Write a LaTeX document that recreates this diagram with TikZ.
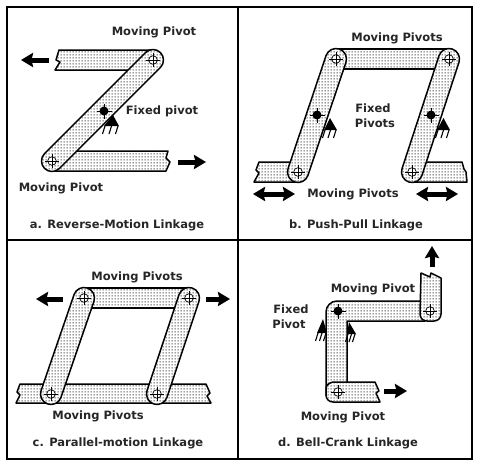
\documentclass[tikz,border=0pt]{standalone}
\usepackage{fontspec}
\setmainfont{DejaVu Sans}
\usetikzlibrary{patterns,arrows.meta}
\pgfdeclarepatternformonly{stip}{\pgfpointorigin}{\pgfqpoint{3pt}{3pt}}{\pgfqpoint{3pt}{3pt}}{%
  \pgfpathrectangle{\pgfqpoint{0.8pt}{0.8pt}}{\pgfqpoint{1.35pt}{1.35pt}}\pgfusepath{fill}}
\tikzset{
  frame/.style={line width=2pt,black},
  part/.style={line width=1.5pt,draw=black,fill=white,line join=round},
  dots/.style={pattern=stip,pattern color=black!85},
  lbl/.style={font=\fontsize{11.5pt}{13pt}\selectfont\bfseries,inner sep=0pt,text=black!85},
  fat/.style={line width=5pt,-{Stealth[length=12pt,width=14pt,inset=1.5pt]}},
  fatboth/.style={line width=5pt,{Stealth[length=12pt,width=14pt,inset=1.5pt]}-{Stealth[length=12pt,width=14pt,inset=1.5pt]}},
}
% stadium link between two pivots
\newcommand{\linkbar}[4]{%
  \pgfmathsetmacro{\ang}{atan2(#4-#2,#3-#1)}%
  \pgfmathsetmacro{\len}{veclen(#3-#1,#4-#2)}%
  \begin{scope}[shift={(#1,#2)},rotate=\ang]
    \path[part] (0,-10.5) -- (\len,-10.5) arc[start angle=-90,end angle=90,radius=10.5] -- (0,10.5) arc[start angle=90,end angle=270,radius=10.5] -- cycle;
    \path[dots] (0,-10.5) -- (\len,-10.5) arc[start angle=-90,end angle=90,radius=10.5] -- (0,10.5) arc[start angle=90,end angle=270,radius=10.5] -- cycle;
  \end{scope}}
\newcommand{\barshape}[1]{\path[part] #1;\path[dots] #1;}
\newcommand{\movepiv}[2]{%
  \draw[line width=0.7pt,fill=white] (#1,#2) circle[radius=4.3];
  \draw[line width=0.7pt] (#1-7,#2) -- (#1+7,#2) (#1,#2-7) -- (#1,#2+7);}
\newcommand{\fixpiv}[2]{%
  \fill (#1,#2) circle[radius=4.5];
  \draw[line width=0.8pt] (#1-7.5,#2) -- (#1+7.5,#2) (#1,#2-7.5) -- (#1,#2+7.5);}
% ground: apex x, apex y, base left x, base right x, base y
\newcommand{\ground}[5]{%
  \fill (#1,#2) -- (#4,#5) -- (#3,#5) -- cycle;
  \draw[line width=1.1pt] (#3+1,#5) -- ++(-2.5,8) ({(#3+#4)/2},#5) -- ++(-2.5,8) (#4-1,#5) -- ++(-2.5,8);}
\begin{document}
\begin{tikzpicture}[x=1pt,y=1pt,yscale=-1]
\useasboundingbox (0,0) rectangle (480,467);
\fill[white] (0,0) rectangle (480,467);
\draw[frame] (6.5,6.5) rectangle (472,459);
\draw[frame] (238,6.5) -- (238,459);
\draw[frame] (6.5,239.5) -- (472,239.5);

% --- a
\barshape{(59,50) -- (152,50) -- (152,70) -- (55,70) -- (60,62) -- (56,60) -- cycle}
\barshape{(60,151) -- (168,151) -- (166,158) -- (170,162) -- (166,171) -- (55,171) -- cycle}
\linkbar{153}{60}{52}{161}
\movepiv{153}{60}\movepiv{52}{161}
\fixpiv{104}{111}
\ground{113}{115}{104}{119}{126}
\node[lbl] (a1) at (154,32) {Moving Pivot};
\node[lbl] (a2) at (162,111) {Fixed pivot};
\node[lbl] (a3) at (61,188) {Moving Pivot};
\node[lbl] (a4) at (117,225) {a. Reverse-Motion Linkage};
\coordinate (a5) at (49,60);\coordinate (a6) at (21,60);
\coordinate (a7) at (178,162);\coordinate (a8) at (206,162);
\draw[fat] (a5) -- (a6);
\draw[fat] (a7) -- (a8);

% --- b
\barshape{(336,49) -- (449,49) -- (449,69) -- (336,69) -- cycle}
\barshape{(259,162) -- (298,162) -- (298,182) -- (254,182) -- (259,173) -- (256,170) -- cycle}
\barshape{(412,162) -- (462,162) -- (464,169) -- (466,172) -- (467,182) -- (412,182) -- cycle}
\linkbar{336}{59}{298}{172}
\linkbar{449}{59}{412}{172}
\movepiv{336}{59}\movepiv{298}{172}\movepiv{449}{59}\movepiv{412}{172}
\fixpiv{317}{115}\fixpiv{431}{115}
\ground{330}{118}{324}{337}{130}
\ground{443.5}{118}{437}{450}{130}
\node[lbl] (b1) at (397,38) {Moving Pivots};
\node[lbl] (b2) at (373,108) {Fixed};
\node[lbl] (b3) at (375,123) {Pivots};
\node[lbl] (b4) at (353,194) {Moving Pivots};
\node[lbl] (b5) at (356,225) {b. Push-Pull Linkage};
\coordinate (b6) at (253,194);\coordinate (b7) at (295,194);
\coordinate (b8) at (416,194);\coordinate (b9) at (458,194);
\draw[fatboth] (b6) -- (b7);
\draw[fatboth] (b8) -- (b9);

% --- c
\barshape{(84,288) -- (189,288) -- (189,308) -- (84,308) -- cycle}
\barshape{(20,384) -- (206,384) -- (210,393) -- (207,396) -- (211,403) -- (16,403) -- (20,395) -- (17,392) -- cycle}
\linkbar{84}{298}{51}{394}
\linkbar{189}{298}{157}{394}
\movepiv{84}{298}\movepiv{51}{394}\movepiv{189}{298}\movepiv{157}{394}
\node[lbl] (c1) at (137,277) {Moving Pivots};
\node[lbl] (c2) at (98,416) {Moving Pivots};
\node[lbl] (c3) at (118,443) {c. Parallel-motion Linkage};
\coordinate (c4) at (63,299);\coordinate (c5) at (36,299);
\coordinate (c6) at (206,299);\coordinate (c7) at (230,299);
\draw[fat] (c4) -- (c5);
\draw[fat] (c6) -- (c7);

% --- d
\barshape{(347,395) -- (347,321) -- (425,321) -- (425,301) -- (337,301) .. controls (331,301) and (326,306) .. (326,312) -- (326,395) -- cycle}
\barshape{(421,273) -- (430,277) -- (431,273) -- (441,278) -- (441,314) .. controls (441,318) and (438,321) .. (434,321) -- (427,321) .. controls (423,321) and (420,318) .. (420,314) -- cycle}
\barshape{(375,382) -- (333,382) .. controls (329,383) and (326,385) .. (326,389) -- (326,395) .. controls (326,399) and (329,402) .. (333,402) -- (380,402) -- (376,393) -- (379,391) -- cycle}
\movepiv{430}{311}\movepiv{338}{392}
\fixpiv{338}{311}
\ground{323}{319}{317}{327}{333}
\ground{349}{322}{347}{356}{334}
\node[lbl] (d1) at (373,289) {Moving Pivot};
\node[lbl] (d2) at (291,309) {Fixed};
\node[lbl] (d3) at (289,324) {Pivot};
\node[lbl] (d4) at (343,417) {Moving Pivot};
\node[lbl] (d5) at (348,443) {d. Bell-Crank Linkage};
\coordinate (d6) at (432,267);\coordinate (d7) at (432,246);
\coordinate (d8) at (384,391);\coordinate (d9) at (407,391);
\draw[fat] (d6) -- (d7);
\draw[fat] (d8) -- (d9);
\end{tikzpicture}
\end{document}
